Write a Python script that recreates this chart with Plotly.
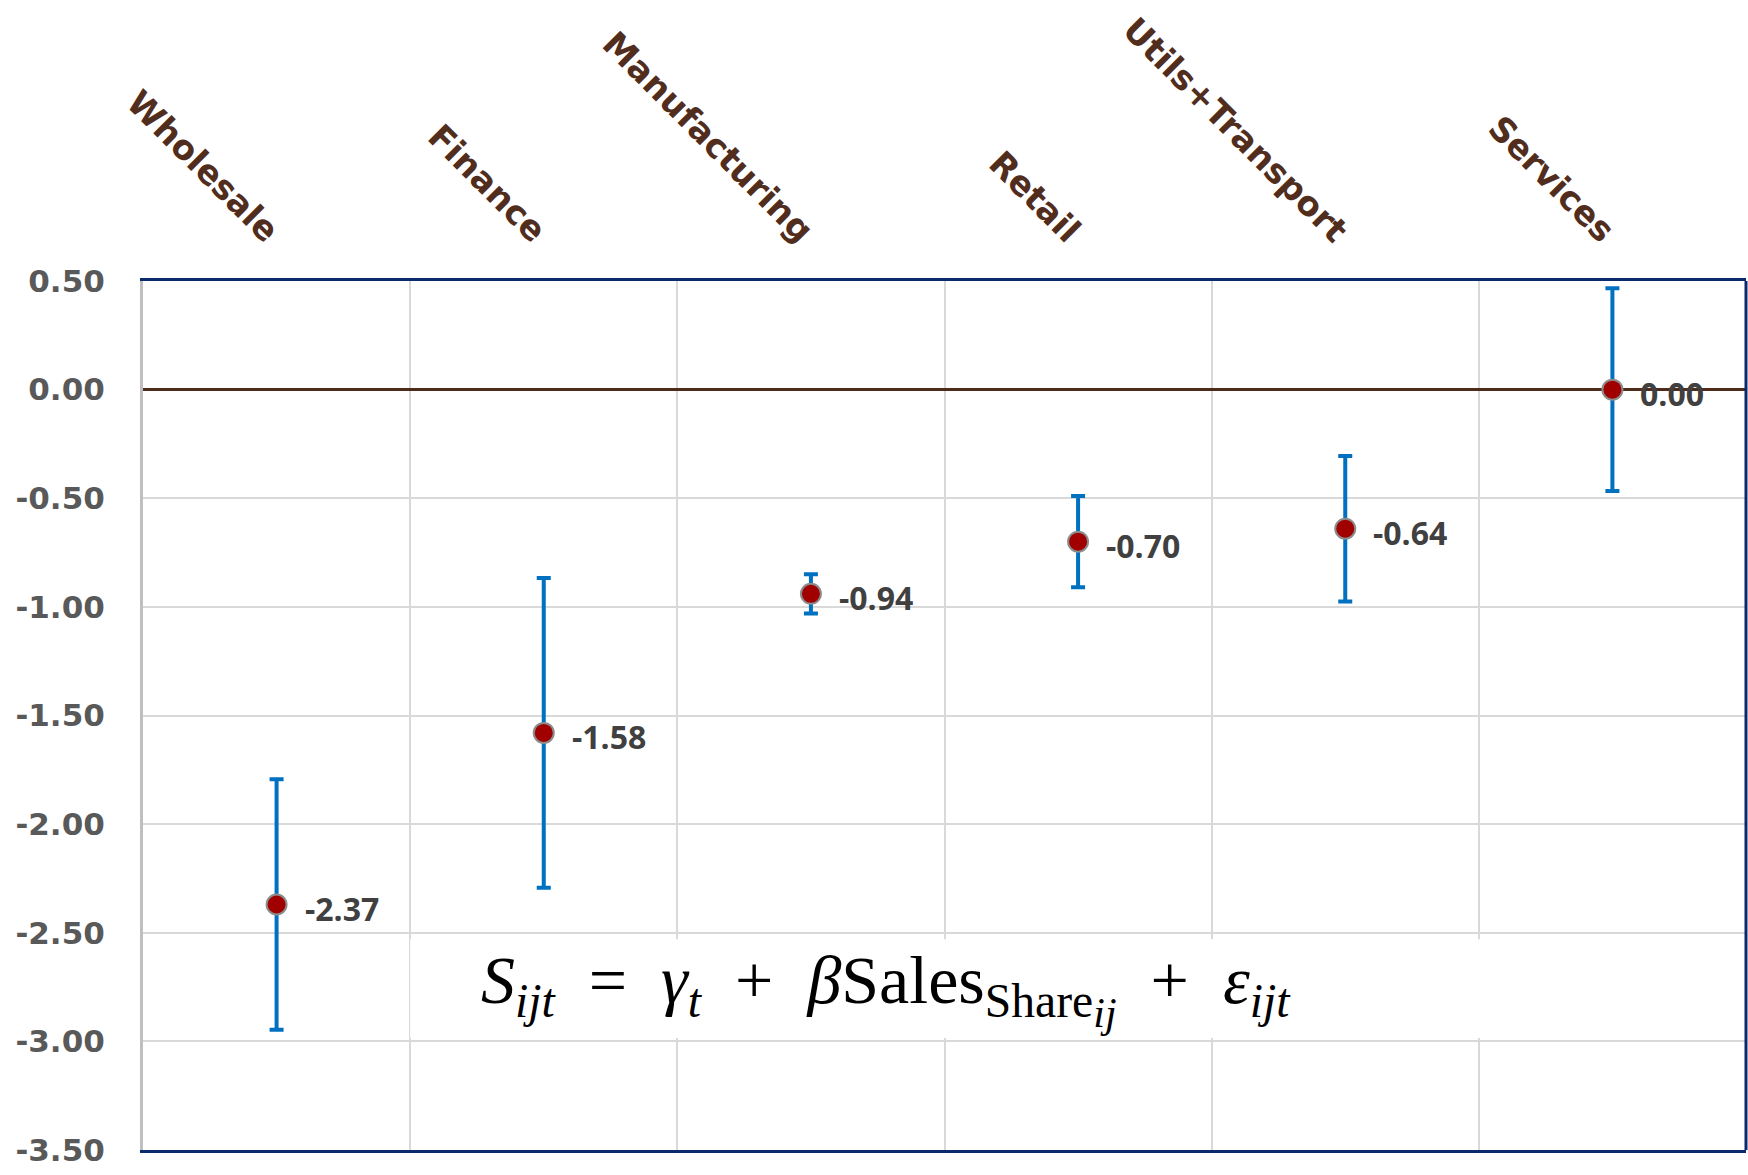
import plotly.graph_objects as go

categories = ["Wholesale", "Finance", "Manufacturing", "Retail", "Utils+Transport", "Services"]
values = [-2.37, -1.58, -0.94, -0.70, -0.64, 0.00]
errors = [0.577, 0.713, 0.09, 0.21, 0.335, 0.467]
value_labels = ["-2.37", "-1.58", "-0.94", "-0.70", "-0.64", "0.00"]
y_ticks = [0.5, 0.0, -0.5, -1.0, -1.5, -2.0, -2.5, -3.0, -3.5]
y_tick_text = ["0.50", "0.00", "-0.50", "-1.00", "-1.50", "-2.00", "-2.50", "-3.00", "-3.50"]

W, H = 1748, 1175
L, R, T, B = 143, 2, 281, 25

fig = go.Figure()
fig.add_trace(go.Scatter(
    x=categories, y=values, mode="markers",
    marker=dict(size=20, color="#A00000", line=dict(color="#8c8c8c", width=2)),
    error_y=dict(type="data", array=errors, visible=True, color="#0070C0",
                 thickness=4, width=7),
    showlegend=False, cliponaxis=False,
))

for c, v, t in zip(categories, values, value_labels):
    fig.add_annotation(x=c, y=v, text=t, showarrow=False, xanchor="left",
                       yanchor="middle", xshift=26, yshift=-4,
                       font=dict(family="Open Sans", size=32, color="#404040", weight="bold"))

# white formula box
fig.add_shape(type="rect", xref="x", yref="y", x0=0.5, x1=5.5, y0=-2.985, y1=-2.53,
              fillcolor="white", line=dict(width=0), layer="above")
sp = "\u2002"
formula = (f"<i>S</i><sub><i>ijt</i></sub>{sp}={sp}<i>γ</i><sub><i>t</i></sub>{sp}+{sp}"
           f"<i>β</i>Sales<sub>Share<sub><span style='font-size:42px'><i>ij</i></span></sub></sub>"
           f"{sp}+{sp}<i>ε</i><sub><i>ijt</i></sub>")
fig.add_annotation(
    xref="paper", yref="y", x=0.4635, y=-2.76, showarrow=False,
    text=formula,
    font=dict(family="Liberation Serif", size=68, color="black"),
)

# right border
fig.add_shape(type="line", xref="paper", yref="paper", x0=1, x1=1, y0=0, y1=1,
              line=dict(color="#0B2A6B", width=3), layer="above")

fig.update_xaxes(
    type="category", side="top", tickangle=45, tickson="boundaries",
    showgrid=True, gridcolor="#d9d9d9", gridwidth=2,
    showline=True, linecolor="#0B2A6B", linewidth=3, mirror=True,
    ticks="", ticklabelstandoff=15, automargin=False,
    tickfont=dict(family="DejaVu Sans", size=34, color="#512d1e", weight="bold"),
    range=[-0.5, 5.5],
)
fig.update_yaxes(
    range=[-3.5, 0.5], tickvals=y_ticks, ticktext=y_tick_text,
    showgrid=True, gridcolor="#d9d9d9", gridwidth=2,
    zeroline=True, zerolinecolor="#4e2b1a", zerolinewidth=3,
    showline=True, linecolor="#bfbfbf", linewidth=3,
    ticks="", ticklabelstandoff=29, automargin=False,
    tickfont=dict(family="DejaVu Sans", size=31, color="#595959", weight="bold"),
)
fig.update_layout(
    width=W, height=H, margin=dict(l=L, r=R, t=T, b=B, autoexpand=False),
    paper_bgcolor="white", plot_bgcolor="white",
)
fig.write_html("out.html")
